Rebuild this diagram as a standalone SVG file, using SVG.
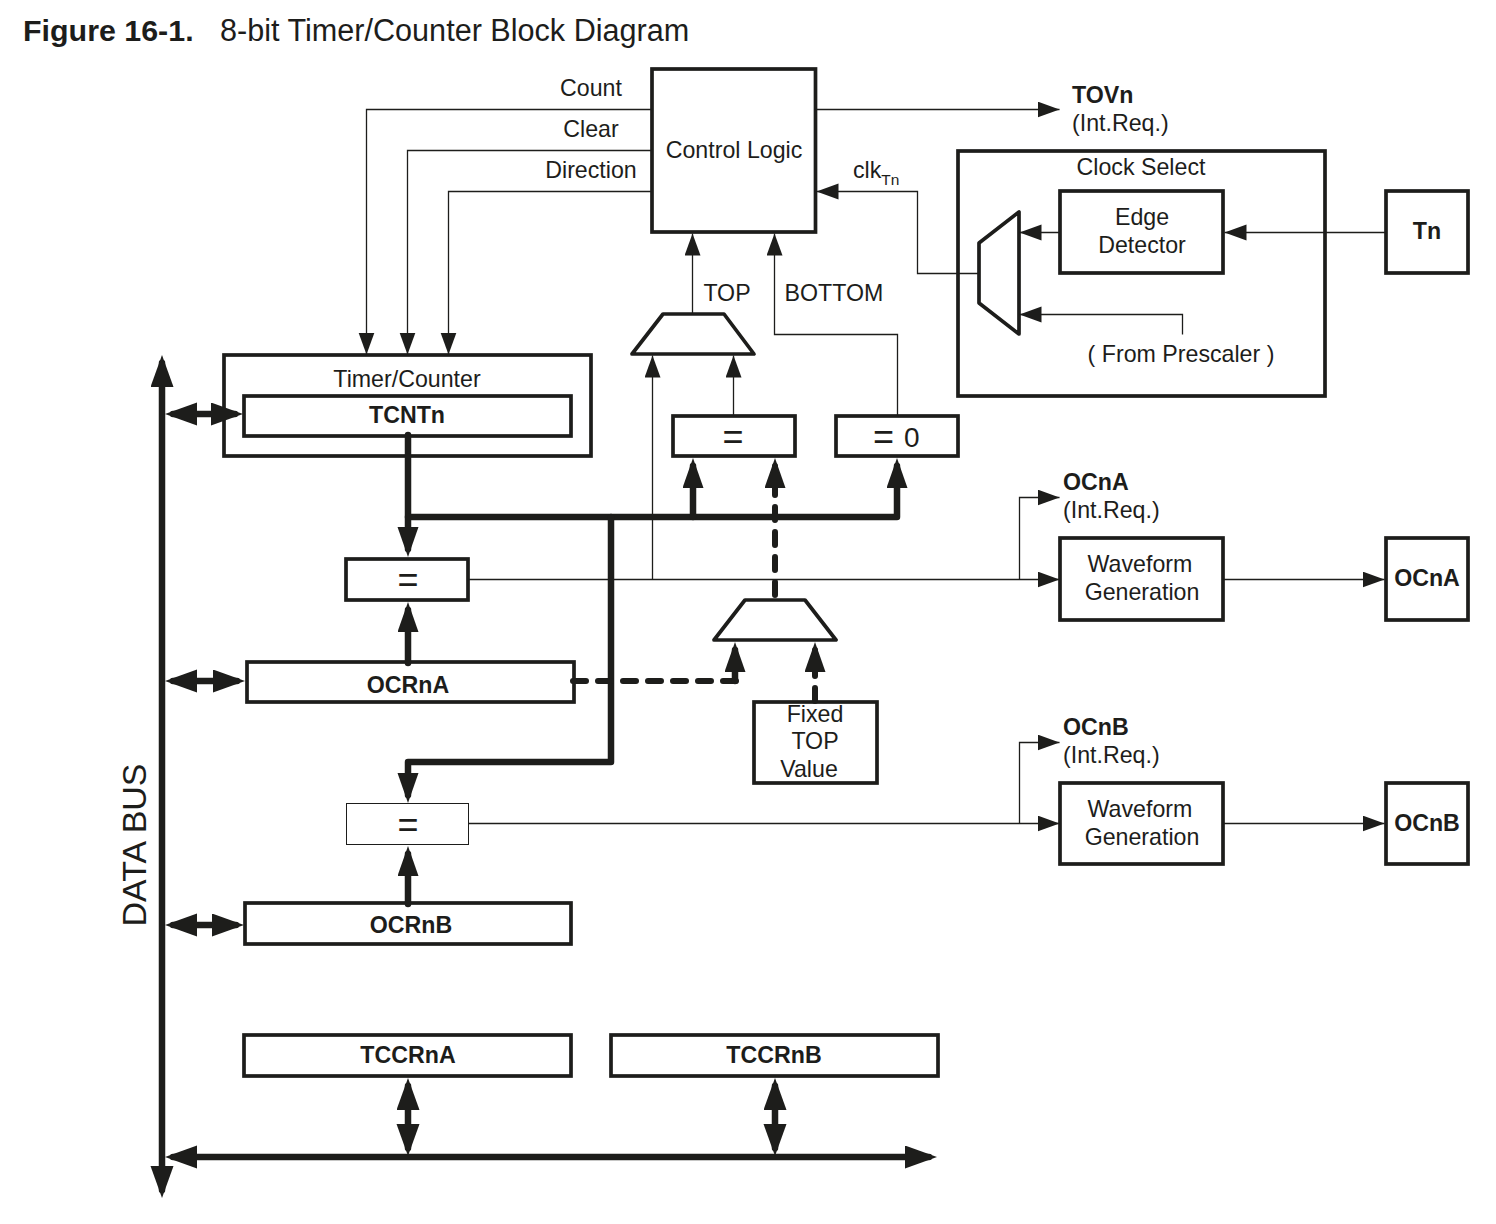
<svg xmlns="http://www.w3.org/2000/svg" width="1496" height="1224" viewBox="0 0 1496 1224">
<style>
text{font-family:"Liberation Sans",Arial,sans-serif;font-size:23.2px;fill:#1d1d1b;text-anchor:middle}
.b{font-weight:bold}
.l{text-anchor:start}
.e{font-size:36px}
.r{fill:#fff;stroke:#1d1d1b;stroke-width:3.7}
.t{fill:none;stroke:#1d1d1b;stroke-width:1.3}
.k{fill:none;stroke:#1d1d1b;stroke-width:6.5;stroke-linecap:round;stroke-linejoin:round}
.d{fill:none;stroke:#1d1d1b;stroke-width:6;stroke-dasharray:13 12;stroke-linecap:round}
.ta{marker-end:url(#ah)}
.ka{marker-end:url(#ak)}
.dk{marker-start:url(#am);marker-end:url(#am)}
</style>
<defs>
<marker id="ah" markerUnits="userSpaceOnUse" markerWidth="24" markerHeight="18" refX="22" refY="8" orient="auto-start-reverse"><path d="M0,0 22,8 0,16z" fill="#1d1d1b"/></marker>
<marker id="ak" markerUnits="userSpaceOnUse" markerWidth="32" markerHeight="23" refX="22" refY="10.5" orient="auto-start-reverse"><path d="M0,0 30,10.5 0,21z" fill="#1d1d1b"/></marker>
<marker id="am" markerUnits="userSpaceOnUse" markerWidth="34" markerHeight="24" refX="24" refY="11.5" orient="auto-start-reverse"><path d="M0,0 32,11.5 0,23z" fill="#1d1d1b"/></marker>
</defs>
<rect width="1496" height="1224" fill="#fff"/>
<text class="b l" x="23" y="41" style="font-size:30.4px">Figure 16-1.</text>
<text class="l" x="220" y="41" style="font-size:30.6px">8-bit Timer/Counter Block Diagram</text>

<g id="timer-counter"><rect class="r" x="224" y="355" width="367" height="101"/><text x="407" y="387">Timer/Counter</text></g>
<g id="clock-select"><rect class="r" x="958" y="151" width="367" height="245"/><text x="1141" y="175">Clock Select</text><text x="1181" y="362">( From Prescaler )</text></g>
<g id="control-logic"><rect class="r" x="652" y="69" width="163.500" height="163"/><text x="734" y="158">Control Logic</text></g>
<g id="edge-detector"><rect class="r" x="1060" y="191" width="163" height="82"/><text x="1142" y="225">Edge</text><text x="1142" y="253">Detector</text></g>
<g id="clock-mux"><path class="r" stroke-linejoin="round" d="M979 243 1019 212V334L979 303z"/></g>
<g id="tn"><rect class="r" x="1386" y="191" width="82" height="82"/><text class="b" x="1427" y="239">Tn</text></g>
<g id="top-mux"><path class="r" stroke-linejoin="round" d="M632 354 663 314H724L754 354z"/></g>
<g id="eq-top"><rect class="r" x="673" y="416" width="122" height="40"/><text class="e" x="733" y="449">=</text></g>
<g id="eq-zero"><rect class="r" x="836" y="416" width="122" height="40"/><text class="l e" x="873" y="449">=<tspan x="904" y="447" style="font-size:28px">0</tspan></text></g>
<g id="tcntn"><rect class="r" x="244" y="396" width="327" height="40"/><text class="b" x="407" y="423">TCNTn</text></g>
<g id="eq-a"><rect class="r" x="346" y="559" width="122" height="41"/><text class="e" x="408" y="592">=</text></g>
<g id="ocrna"><rect class="r" x="247" y="662" width="327" height="40"/><text class="b" x="408" y="693">OCRnA</text></g>
<g id="output-mux"><path class="r" stroke-linejoin="round" d="M714 640 745 600H805L836 640z"/></g>
<g id="fixed-top"><rect class="r" x="754" y="702" width="123" height="81"/><text x="815" y="722">Fixed</text><text x="815" y="749">TOP</text><text x="809" y="777">Value</text></g>
<g id="eq-b"><rect x="346.500" y="803.500" width="122" height="41" fill="#fff" stroke="#1d1d1b" stroke-width="1"/><text class="e" x="408" y="837">=</text></g>
<g id="ocrnb"><rect class="r" x="245" y="903" width="326" height="41"/><text class="b" x="411" y="933">OCRnB</text></g>
<g id="waveform-a"><rect class="r" x="1060" y="538" width="163" height="82"/><text x="1140" y="572">Waveform</text><text x="1142" y="600">Generation</text></g>
<g id="waveform-b"><rect class="r" x="1060" y="783" width="163" height="81"/><text x="1140" y="817">Waveform</text><text x="1142" y="845">Generation</text></g>
<g id="ocna"><rect class="r" x="1386" y="538" width="82" height="82"/><text class="b" x="1427" y="586">OCnA</text></g>
<g id="ocnb"><rect class="r" x="1386" y="783" width="82" height="81"/><text class="b" x="1427" y="831">OCnB</text></g>
<g id="tccrna"><rect class="r" x="244" y="1035" width="327" height="41"/><text class="b" x="408" y="1063">TCCRnA</text></g>
<g id="tccrnb"><rect class="r" x="611" y="1035" width="327" height="41"/><text class="b" x="774" y="1063">TCCRnB</text></g>

<g id="connectors">
<g transform="translate(-.5 .5)">
<path class="t ta" d="M652 109H367V354"/>
<path class="t ta" d="M652 150H408V354"/>
<path class="t ta" d="M652 191H449V354"/>
<path class="t ta" d="M816 109H1060"/>
<path class="t ta" d="M979 273H918V191H817"/>
<path class="t ta" d="M1060 232H1020"/>
<path class="t ta" d="M1386 232H1225"/>
<path class="t ta" d="M1183 334V314H1020"/>
<path class="t ta" d="M693 314V233"/>
<path class="t ta" d="M898 415V334H775V233"/>
<path class="t ta" d="M734 415V355"/>
<path class="t ta" d="M469 579H1060"/>
<path class="t ta" d="M653 579V355"/>
<path class="t ta" d="M1020 579V497H1060"/>
<path class="t ta" d="M1224 579H1385"/>
<path class="t ta" d="M469 823H1060"/>
<path class="t ta" d="M1020 823V742H1060"/>
<path class="t ta" d="M1224 823H1385"/>
</g>
<path class="k dk" d="M162 1190V363"/>
<path class="k dk" d="M173 1157H929"/>
<path class="k dk" d="M173 414H235"/>
<path class="k dk" d="M173 681H237"/>
<path class="k dk" d="M173 925H236"/>
<path class="k dk" d="M408 1086V1148"/>
<path class="k dk" d="M775 1086V1148"/>
<path class="k ka" d="M408 435V549"/>
<path class="k ka" d="M408 517H897V466"/>
<path class="k ka" d="M693 517V466"/>
<path class="k ka" d="M611 517V762H408V795"/>
<path class="k ka" d="M408 663V610"/>
<path class="k ka" d="M408 904V854"/>
<path class="d ka" d="M775 595V466"/>
<path class="d" d="M573 681H736"/>
<path class="k ka" d="M735 681V650"/>
<path class="d ka" d="M815 701V650"/>
</g>

<g id="labels">
<text x="591" y="96">Count</text>
<text x="591" y="137">Clear</text>
<text x="591" y="178">Direction</text>
<text class="l" x="853" y="178">clk<tspan dy="7" style="font-size:15.500px">Tn</tspan></text>
<text x="727" y="301">TOP</text>
<text x="834" y="301">BOTTOM</text>
<text class="b l" x="1072" y="103">TOVn</text>
<text class="l" x="1072" y="131">(Int.Req.)</text>
<text class="b l" x="1063" y="490">OCnA</text>
<text class="l" x="1063" y="518">(Int.Req.)</text>
<text class="b l" x="1063" y="735">OCnB</text>
<text class="l" x="1063" y="763">(Int.Req.)</text>
<text transform="translate(146 845) rotate(-90)" style="font-size:34px">DATA BUS</text>
</g>
</svg>
